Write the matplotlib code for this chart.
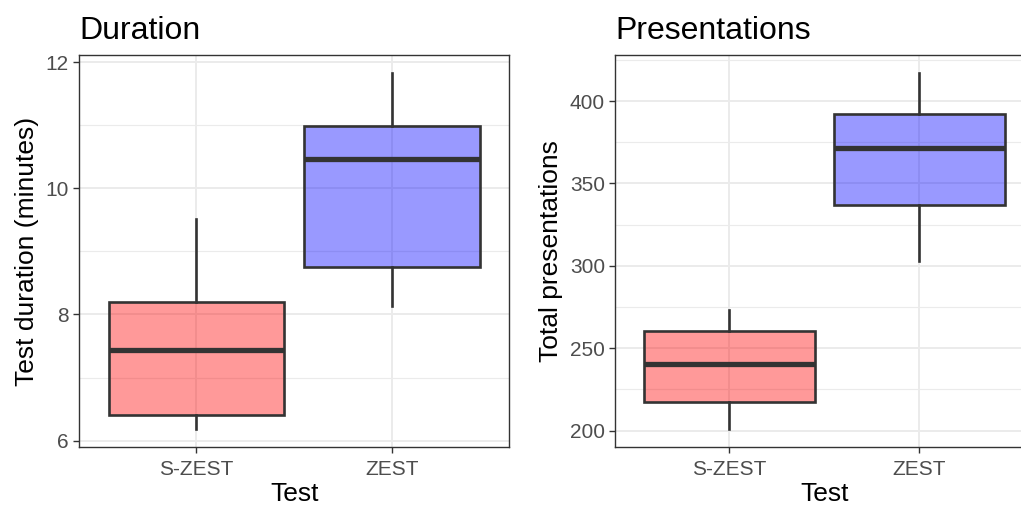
import matplotlib
matplotlib.use("Agg")
import matplotlib.pyplot as plt
from matplotlib.ticker import MultipleLocator

plt.rcParams['font.family'] = ['Liberation Sans', 'DejaVu Sans']

categories = ["S-ZEST", "ZEST"]
fills = [(1, 0, 0, 0.4), (0, 0, 1, 0.4)]

# Duration (minutes): whisker low, Q1, median, Q3, whisker high
dur_low = [6.18, 8.13]
dur_q1 = [6.41, 8.76]
dur_med = [7.435, 10.466]
dur_q3 = [8.20, 10.984]
dur_high = [9.51, 11.83]

# Presentations
pres_low = [200.8, 303.2]
pres_q1 = [217.6, 336.9]
pres_med = [240.5, 371.5]
pres_q3 = [260.7, 391.9]
pres_high = [272.9, 417.0]

W, H = 1021, 508
fig = plt.figure(figsize=(W / 100, H / 100), dpi=100)

edge = '#333333'
grid_c = '#EBEBEB'


def panel(ax, low, q1, med, q3, high, title, ylabel, major, minor):
    stats = []
    for i in range(len(categories)):
        stats.append(dict(whislo=low[i], q1=q1[i], med=med[i], q3=q3[i],
                          whishi=high[i], fliers=[], label=categories[i]))
    bp = ax.bxp(stats, positions=[1, 2], widths=0.9, patch_artist=True,
                showcaps=False, showfliers=False,
                boxprops=dict(edgecolor=edge, linewidth=1.9),
                whiskerprops=dict(color=edge, linewidth=1.9),
                medianprops=dict(color=edge, linewidth=3.8, solid_capstyle='butt'),
                zorder=3)
    for patch, c in zip(bp['boxes'], fills):
        patch.set_facecolor(c)
        patch.set_edgecolor(edge)
    allv = low + high
    lo, hi = min(allv), max(allv)
    pad = (hi - lo) * 0.05
    ax.set_ylim(lo - pad, hi + pad)
    ax.set_xlim(0.4, 2.6)
    ax.yaxis.set_major_locator(MultipleLocator(major))
    ax.yaxis.set_minor_locator(MultipleLocator(minor))
    ax.grid(True, which='major', color=grid_c, linewidth=1.4, zorder=0)
    ax.grid(True, which='minor', axis='y', color=grid_c, linewidth=0.8, zorder=0)
    ax.set_axisbelow(True)
    ax.tick_params(axis='y', which='minor', length=0)
    ax.tick_params(which='major', length=4.5, width=1.0, color=edge,
                   labelcolor='#4D4D4D', labelsize=15, pad=3)
    ax.tick_params(axis='x', pad=5)
    for s in ax.spines.values():
        s.set_color(edge)
        s.set_linewidth(1.0)
    ax.set_xticks([1, 2])
    ax.set_xticklabels(categories)
    ax.set_xlabel("Test", fontsize=19, color='black', labelpad=2)
    ax.set_ylabel(ylabel, fontsize=19, color='black', labelpad=5)
    ax.set_title(title, fontsize=23, loc='left', pad=12, x=0.0)


ax1 = fig.add_axes([79.3 / W, 1 - 447 / H, (509 - 79.3) / W, (447 - 55.3) / H])
panel(ax1, dur_low, dur_q1, dur_med, dur_q3, dur_high,
      "Duration", "Test duration (minutes)", 2, 1)

ax2 = fig.add_axes([615.3 / W, 1 - 447 / H, (1033.5 - 615.3) / W, (447 - 55.3) / H])
panel(ax2, pres_low, pres_q1, pres_med, pres_q3, pres_high,
      "Presentations", "Total presentations", 50, 25)

fig.savefig("out.png", dpi=100)
